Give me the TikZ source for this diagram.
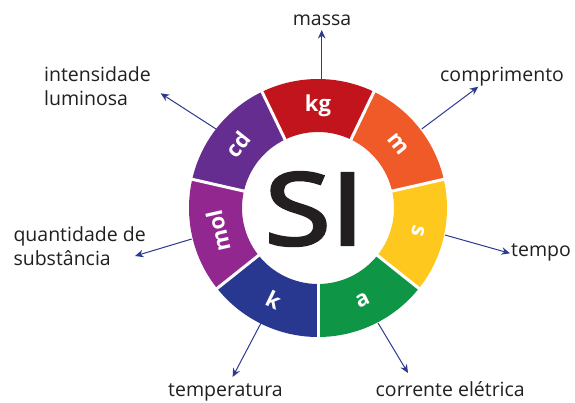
\documentclass[tikz,border=0pt]{standalone}
\usepackage{fontspec}
\setmainfont{Open Sans}
\usetikzlibrary{arrows.meta,calc}
\definecolor{kgred}{RGB}{193,20,28}
\definecolor{morange}{RGB}{240,90,40}
\definecolor{syellow}{RGB}{255,200,30}
\definecolor{agreen}{RGB}{14,150,70}
\definecolor{kblue}{RGB}{40,56,144}
\definecolor{molpurple}{RGB}{146,39,143}
\definecolor{cdpurple}{RGB}{102,45,145}
\definecolor{arrowblue}{RGB}{43,57,144}
\definecolor{textgray}{RGB}{35,31,32}
% heavier strokes for the big letters
\newcommand\thicktext[1]{\special{pdf:literal direct 2 Tr 3 w 0.137 0.122 0.125 RG}#1\special{pdf:literal direct 0 Tr}}
\tikzset{
    unitlab/.style={text=white, font=\fontsize{22}{22}\selectfont\bfseries, inner sep=0pt},
    desclab/.style={text=textgray, font=\fontsize{19.5}{23.5}\selectfont, inner sep=0pt, align=left},
    siarrow/.style={-{Stealth[length=8.5pt, width=7.5pt]}, line width=1pt, draw=arrowblue}
}

\begin{document}
\begin{tikzpicture}[x=1pt, y=1pt]
\useasboundingbox (0,0) rectangle (575,-402);
\coordinate (c) at (318,-208);

% quantities
\node[desclab, anchor=base] (massa) at (322,-25) {massa};
\node[desclab, anchor=base west] (lumin) at (44,-105) {intensidade\\luminosa};
\node[desclab, anchor=base west] (compr) at (440,-81) {comprimento};
\node[desclab, anchor=base west] (subst) at (13.3,-265) {quantidade de\\substância};
\node[desclab, anchor=base west] (tempo) at (511,-256.7) {tempo};
\node[desclab, anchor=base west] (temper) at (168,-396) {temperatura};
\node[desclab, anchor=base west] (corr) at (375.5,-396) {corrente elétrica};

% arrows out of the ring
\coordinate (kgout) at (321.7,-79);   \coordinate (kgtip) at (321.7,-30);
\coordinate (cdout) at (216,-129);    \coordinate (cdtip) at (160.7,-93.3);
\coordinate (mout) at (421.7,-129);   \coordinate (mtip) at (478.3,-86.7);
\coordinate (molout) at (191.7,-239); \coordinate (moltip) at (135,-256);
\coordinate (sout) at (445,-235);     \coordinate (stip) at (510,-253.3);
\coordinate (kout) at (261,-323);     \coordinate (ktip) at (232.6,-377);
\coordinate (aout) at (378,-323);     \coordinate (atip) at (408,-373);
\foreach \s in {kg,cd,m,mol,s,k,a}
    \draw[siarrow] (\s out) -- (\s tip);

% ring of units
\foreach \col/\lab/\rot [count=\i from 0] in {kgred/kg/-90, morange/m/-90, syellow/s/-90,
        agreen/a/90, kblue/k/90, molpurple/mol/-90, cdpurple/cd/-90}{
    \pgfmathsetmacro\ang{90-\i*360/7}
    \fill[\col] ($(c)+(\ang-25.714:129)$) arc[start angle=\ang-25.714, end angle=\ang+25.714, radius=129]
        -- ($(c)+(\ang+25.714:76)$) arc[start angle=\ang+25.714, end angle=\ang-25.714, radius=76] -- cycle;
    \node[unitlab, rotate=\ang+\rot] (u\lab) at ($(c)+(\ang:102.5)$) {\lab};
}
\foreach \i in {0,...,6}
    \draw[white, line width=3pt] ($(c)+(64.286-\i*51.4286:74)$) -- ($(c)+(64.286-\i*51.4286:131)$);

\node[text=textgray, font=\fontsize{100}{100}\selectfont, inner sep=0pt, xscale=1.2] (si) at (314.5,-209) {\thicktext{SI}};
\end{tikzpicture}
\end{document}
